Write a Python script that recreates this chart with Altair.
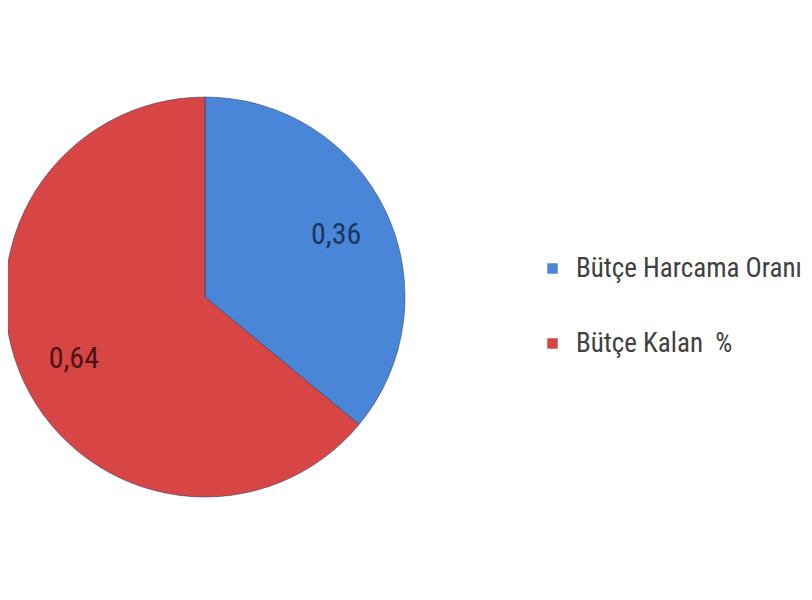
import altair as alt
import pandas as pd

categories = ["Bütçe Harcama Oranı", "Bütçe Kalan\u00a0 %"]
values = [0.36, 0.64]
labels = ["0,36", "0,64"]
slice_colors = ["#4a86d8", "#d84545"]
label_colors = ["#1a3560", "#4d1414"]
order = [0, 1]

df = pd.DataFrame({"category": categories, "value": values, "label": labels, "order": order})

FONT = "Roboto Condensed, Liberation Sans Narrow, Roboto, sans-serif"

base = alt.Chart(df).encode(
    theta=alt.Theta("value:Q", stack=True),
    order=alt.Order("order:Q"),
    x=alt.value(192),
    y=alt.value(284),
)

pie = base.mark_arc(outerRadius=200, stroke="#2b3f5e", strokeWidth=1, strokeOpacity=0.55).encode(
    color=alt.Color(
        "category:N",
        scale=alt.Scale(domain=categories, range=slice_colors),
        sort=categories,
        legend=alt.Legend(
            title=None,
            orient="none",
            legendX=526,
            legendY=242,
            symbolType="square",
            symbolSize=110,
            symbolStrokeWidth=0,
            labelFont=FONT,
            labelFontSize=27,
            labelColor="#404040",
            labelOffset=10,
            labelLimit=400,
            rowPadding=47,
            padding=0,
        ),
    )
)

text = base.mark_text(radius=145, font=FONT, fontSize=30).encode(
    text="label:N",
    color=alt.Color("category:N", scale=alt.Scale(domain=categories, range=label_colors), legend=None),
)

chart = (
    alt.layer(pie, text)
    .resolve_scale(color="independent")
    .properties(width=785, height=570, autosize=alt.AutoSizeParams(type="none"), padding=5, background="white")
    .configure_view(stroke=None)
)

chart.save("out.html", embed_options={"renderer": "svg", "actions": False})
